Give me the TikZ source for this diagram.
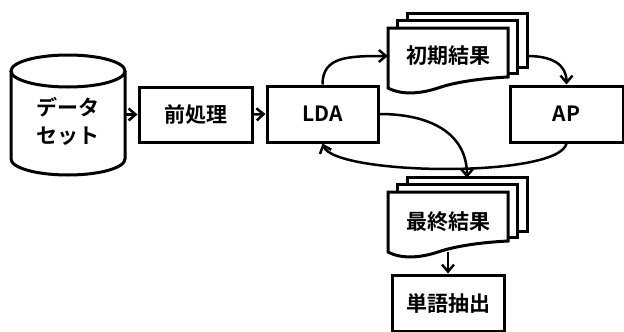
\documentclass[tikz,border=0pt]{standalone}
\usepackage{fontspec}
\setmainfont{Noto Sans CJK JP}[BoldFont={Noto Sans CJK JP Bold}]
\usetikzlibrary{arrows.meta}
\begin{document}
\begin{tikzpicture}[x=1pt,y=-1pt,
  box/.style={draw, line width=3pt, fill=white},
  txt/.style={font=\fontsize{21}{28}\selectfont\bfseries, inner sep=0pt},
  arr/.style={line width=2.5pt, -{Straight Barb[length=7pt,width=12pt]}},
  page/.style={draw, line width=3pt, fill=white, line join=miter},
  docstack/.pic={
    \draw[page] (19,-15) rectangle (139,39);
    \draw[page] (9,-8) rectangle (129,45);
    \draw[page] (0,0) -- (120,0) -- (120,49)
      .. controls (100,50) and (70,53) .. (50,60)
      .. controls (35,65) and (15,68) .. (0,60) -- cycle;
  }]
\useasboundingbox (0,0) rectangle (624,332);

% data set cylinder
\path[fill=white] (11,71) -- (11,159) arc[start angle=180,end angle=360,x radius=57pt,y radius=16pt] -- (125,71) -- cycle;
\draw[line width=3pt] (11,71) -- (11,159) arc[start angle=180,end angle=360,x radius=57pt,y radius=16pt] -- (125,71);
\draw[line width=3pt, fill=white] (68,71) ellipse [x radius=57pt, y radius=16pt];
\node[txt, align=center, minimum width=114pt] (db) at (68,121) {データ\\セット};

% document stacks
\pic at (388,28) {docstack};
\pic at (388,192) {docstack};

% boxes
\node[box, txt, minimum width=113pt, minimum height=55pt] (pre) at (195.5,114.5) {前処理};
\node[box, txt, minimum width=111pt, minimum height=56pt] (lda) at (322.5,114) {LDA};
\node[box, txt, minimum width=113pt, minimum height=56pt] (ap) at (566.5,114) {AP};
\node[box, txt, minimum width=112pt, minimum height=56pt] (word) at (448,303) {単語抽出};

% document nodes
\node[txt, minimum width=120pt, minimum height=56pt] (ini) at (448,56) {初期結果};
\node[inner sep=0pt, minimum width=120pt, minimum height=54pt] (ini3) at (467,40) {};
\node[txt, minimum width=120pt, minimum height=60pt] (fin) at (448,222) {最終結果};
\node[inner sep=0pt, minimum width=120pt, minimum height=54pt] (fin3) at (467,205) {};

% connectors
\draw[arr] (db.east |- pre.west) -- (pre.west);
\draw[arr] (pre.east) -- (lda.west);
\draw[arr] (lda.north) .. controls +(0,-28) and +(-40,0) .. (ini.west);
\draw[arr] (ini.east -| ini3.east) .. controls +(25,0) and +(0,-20) .. (ap.north);
\draw[arr] (ap.south) .. controls +(-8,35) and +(12,32) .. (lda.south);
\draw[arr] (lda.east) .. controls +(50,0) and +(0,-45) .. (fin3.north);
\draw[arr] (fin.south) -- (word.north);
\end{tikzpicture}
\end{document}
